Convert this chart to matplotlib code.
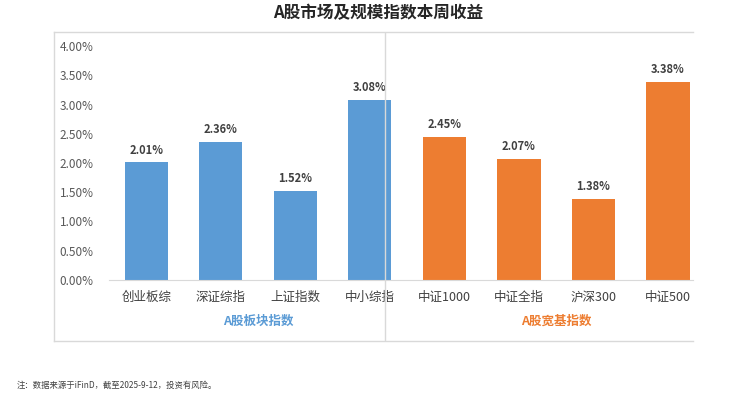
import matplotlib
matplotlib.use('Agg')
from matplotlib import pyplot as plt
from matplotlib.lines import Line2D

plt.rcParams['font.family'] = ['Noto Sans CJK SC', 'DejaVu Sans']

categories = ['创业板综', '深证综指', '上证指数', '中小综指', '中证1000', '中证全指', '沪深300', '中证500']
values = [2.01, 2.36, 1.52, 3.08, 2.45, 2.07, 1.38, 3.38]
groups = ['A股板块指数', 'A股宽基指数']
group_size = [4, 4]
y_ticks = [0, 0.5, 1, 1.5, 2, 2.5, 3, 3.5, 4]

blue = '#5b9bd5'
orange = '#ed7d31'
colors = [blue] * group_size[0] + [orange] * group_size[1]

W, H = 756, 396
fig = plt.figure(figsize=(W / 100, H / 100), dpi=100)
ax = fig.add_axes([109 / W, 1 - 280 / H, (693 - 109) / W, (280 - 46) / H])

x = list(range(len(categories)))
bars = ax.bar(x, values, width=0.58, color=colors, zorder=2)
for b, v in zip(bars, values):
    ax.text(b.get_x() + b.get_width() / 2, v + 0.1, f'{v:.2f}%', ha='center', va='bottom',
            fontsize=8, fontweight='bold', color='#404040')

ax.set_xlim(-0.5, 7.335)
ax.set_ylim(0, 4)
ax.set_yticks(y_ticks)
ax.set_yticklabels([f'{t:.2f}%' for t in y_ticks], fontsize=8.5, color='#595959')
ax.set_xticks(x)
ax.set_xticklabels(categories, fontsize=9, color='#404040')
ax.tick_params(axis='both', length=0)
ax.tick_params(axis='y', pad=11)
ax.tick_params(axis='x', pad=8)
for s in ['top', 'right', 'left']:
    ax.spines[s].set_visible(False)
ax.spines['bottom'].set_color('#d9d9d9')

# group labels
ax.text(1.5, -0.70, groups[0], transform=ax.transData, ha='center', va='center',
        fontsize=9, fontweight='bold', color=blue, clip_on=False)
ax.text(5.5, -0.70, groups[1], transform=ax.transData, ha='center', va='center',
        fontsize=9, fontweight='bold', color=orange, clip_on=False)

# frame and divider
def fline(xs, ys):
    fig.add_artist(Line2D([a / W for a in xs], [1 - b / H for b in ys], color='#d9d9d9', lw=1))

fline([54, 54], [32, 341])
fline([54, 693], [32, 32])
fline([54, 693], [341, 341])
fline([385, 385], [33, 340])

fig.text(378 / W, 1 - 13 / H, 'A股市场及规模指数本周收益', ha='center', va='center',
         fontsize=12, fontweight='bold', color='#262626')
fig.text(17 / W, 1 - 385 / H, '注：数据来源于iFinD，截至2025-9-12，投资有风险。', ha='left', va='center',
         fontsize=6, color='#404040')

fig.savefig('out.png', dpi=100)
